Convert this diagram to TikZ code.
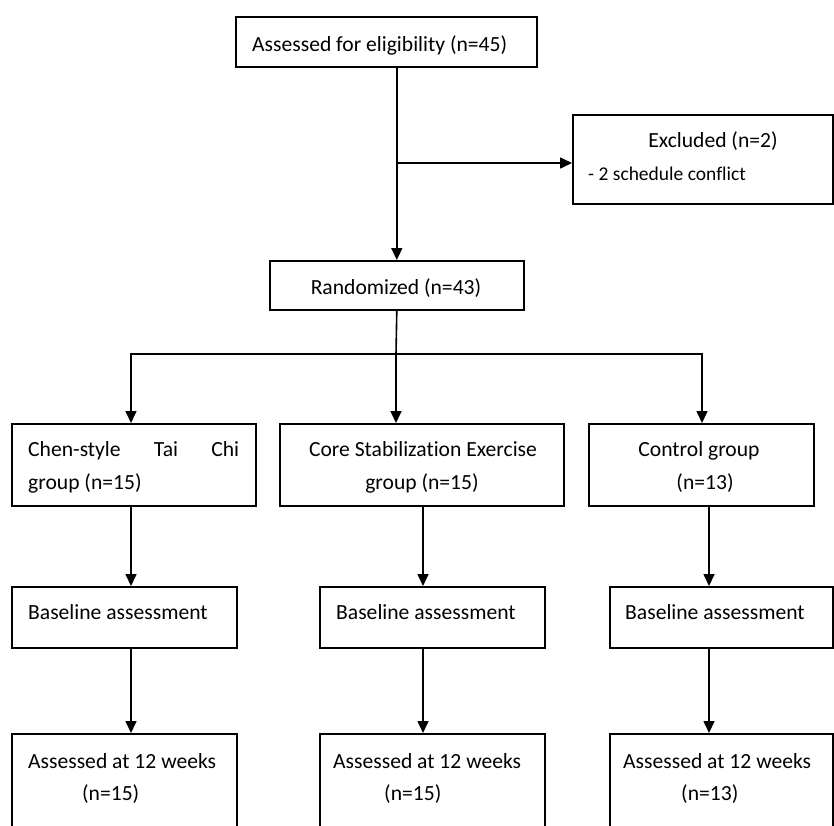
\documentclass[tikz,border=0pt]{standalone}
\usepackage{fontspec}
\setmainfont[Ligatures=NoCommon]{Carlito}
\usetikzlibrary{arrows.meta}
\begin{document}
\begin{tikzpicture}[x=1pt,y=-1pt,
  box/.style={draw, line width=1.6pt, inner sep=0pt, anchor=north west},
  txt/.style={inner sep=0pt, font=\fontsize{21.6}{26}\selectfont},
  arr/.style={line width=1.6pt, -{Triangle[width=11pt,length=12pt]}},
  ln/.style={line width=1.6pt, line cap=rect}]
\useasboundingbox (0,0) rectangle (834,825);
\clip (0,0) rectangle (834,825);
\fill[white] (0,0) rectangle (834,825);

% boxes
\node[box, minimum width=301pt, minimum height=50pt] (top) at (235,16) {};
\node[box, minimum width=260pt, minimum height=89pt] (excl) at (572,114) {};
\node[box, minimum width=254pt, minimum height=49pt] (rand) at (269,260) {};
\node[box, minimum width=244pt, minimum height=82pt] (g1) at (11,423) {};
\node[box, minimum width=284pt, minimum height=82pt] (g2) at (279,423) {};
\node[box, minimum width=225pt, minimum height=82pt] (g3) at (588,423) {};
\node[box, minimum width=225pt, minimum height=61pt] (b1) at (11,586) {};
\node[box, minimum width=225pt, minimum height=61pt] (b2) at (319,586) {};
\node[box, minimum width=223pt, minimum height=61pt] (b3) at (609,586) {};
\node[box, minimum width=225pt, minimum height=110pt] (a1) at (11,733) {};
\node[box, minimum width=225pt, minimum height=110pt] (a2) at (319,733) {};
\node[box, minimum width=223pt, minimum height=110pt] (a3) at (609,733) {};

% texts
\node[txt, anchor=base west] (ttop) at (252,51) {Assessed for eligibility (n=45)};
\node[txt, anchor=base] (texc1) at (713,147) {Excluded (n=2)};
\node[txt, anchor=base west, font=\fontsize{19.5}{23}\selectfont] (texc2) at (588,180) {- 2 schedule conflict};
\node[txt, anchor=base] (trand) at (396,294) {Randomized (n=43)};
\node[txt, anchor=base west] (tg1a) at (28,456) {\makebox[211pt][s]{Chen-style Tai Chi}};
\node[txt, anchor=base west] (tg1b) at (28,489) {group (n=15)};
\node[txt, anchor=base] (tg2a) at (423,456) {Core Stabilization Exercise};
\node[txt, anchor=base] (tg2b) at (422,489) {group (n=15)};
\node[txt, anchor=base] (tg3a) at (699,456) {Control group};
\node[txt, anchor=base] (tg3b) at (705,489) {(n=13)};
\node[txt, anchor=base west] (tb1) at (28,619) {Baseline assessment};
\node[txt, anchor=base west] (tb2) at (336,619) {Baseline assessment};
\node[txt, anchor=base west] (tb3) at (625,619) {Baseline assessment};
\node[txt, anchor=base west] (ta1a) at (28,768) {Assessed at 12 weeks};
\node[txt, anchor=base west] (ta1b) at (82,800) {(n=15)};
\node[txt, anchor=base west] (ta2a) at (333,768) {Assessed at 12 weeks};
\node[txt, anchor=base west] (ta2b) at (384,800) {(n=15)};
\node[txt, anchor=base west] (ta3a) at (623,768) {Assessed at 12 weeks};
\node[txt, anchor=base west] (ta3b) at (681,800) {(n=13)};

% connectors
\draw[arr] (rand.north |- top.south) -- (rand.north);
\coordinate (br) at (396,163);
\draw[arr] (br) -- (br -| excl.west);
\coordinate (h1) at (131,354);
\coordinate (h2) at (396,354);
\coordinate (h3) at (702,354);
\draw[ln] (rand.south) -- (h2);
\draw[ln] (h1) -- (h3);
\draw[arr] (h1) -- (h1 |- g1.north);
\draw[arr] (h2) -- (h2 |- g2.north);
\draw[arr] (h3) -- (h3 |- g3.north);
\coordinate (c1) at (131,0);
\coordinate (c2) at (423,0);
\coordinate (c3) at (709,0);
\draw[arr] (c1 |- g1.south) -- (c1 |- b1.north);
\draw[arr] (c2 |- g2.south) -- (c2 |- b2.north);
\draw[arr] (c3 |- g3.south) -- (c3 |- b3.north);
\draw[arr] (c1 |- b1.south) -- (c1 |- a1.north);
\draw[arr] (c2 |- b2.south) -- (c2 |- a2.north);
\draw[arr] (c3 |- b3.south) -- (c3 |- a3.north);
\end{tikzpicture}
\end{document}
